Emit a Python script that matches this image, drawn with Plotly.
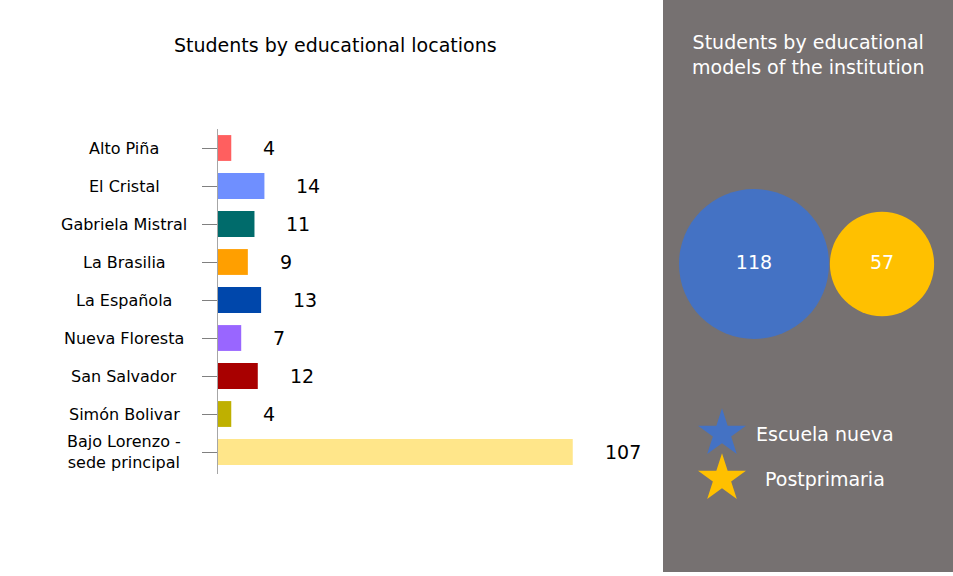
import plotly.graph_objects as go

# datos: estudiantes por sede
locations = ["Alto Piña", "El Cristal", "Gabriela Mistral", "La Brasilia", "La Española",
             "Nueva Floresta", "San Salvador", "Simón Bolivar", "Bajo Lorenzo -<br>sede principal"]
students = [4, 14, 11, 9, 13, 7, 12, 4, 107]
bar_colors = ["#FF5F5F", "#6F8FFF", "#006B6B", "#FF9F00", "#0047AB",
              "#9966FF", "#A80000", "#BFB000", "#FFE68A"]

# datos: estudiantes por modelo educativo
models = ["Escuela nueva", "Postprimaria"]
model_students = [118, 57]
model_colors = ["#4472C4", "#FFC000"]

W, H = 953, 576
FONT = "DejaVu Sans"
PANEL = "#767171"


def px_x(p):
    return p / W


def px_y(p):
    return 1 - p / H


fig = go.Figure()

# barras horizontales
fig.add_trace(go.Bar(
    x=students,
    y=locations,
    orientation="h",
    marker=dict(color=bar_colors, line=dict(width=0)),
    width=0.68,
    hoverinfo="x+y",
    xaxis="x", yaxis="y",
))

# circulos por modelo (area proporcional)
max_r = 75
sizeref = max(model_students) / (2 * max_r ** 2)
fig.add_trace(go.Scatter(
    x=models,
    y=[0] * len(models),
    mode="markers+text",
    marker=dict(size=model_students, sizemode="area", sizeref=sizeref,
                color=model_colors, line=dict(width=0), opacity=1),
    text=[str(v) for v in model_students],
    textposition="middle center",
    textfont=dict(color="white", size=19, family=FONT),
    cliponaxis=False,
    xaxis="x2", yaxis="y2",
))

# leyenda con estrellas
fig.add_trace(go.Scatter(
    x=[0] * len(models),
    y=models,
    mode="markers",
    marker=dict(symbol="star", size=36, color=model_colors, line=dict(width=0)),
    cliponaxis=False,
    xaxis="x3", yaxis="y3",
))

annotations = []

# etiquetas de categoria centradas
for loc in locations:
    annotations.append(dict(
        x=px_x(124), xref="paper", y=loc, yref="y",
        text=loc, showarrow=False, xanchor="center", yanchor="middle",
        font=dict(size=16, color="black", family=FONT),
    ))

# etiquetas de valor
for loc, val in zip(locations, students):
    annotations.append(dict(
        x=val, xref="x", y=loc, yref="y",
        text=str(val), showarrow=False, xanchor="left", yanchor="middle",
        xshift=30, font=dict(size=19, color="black", family=FONT),
    ))

# texto de leyenda
for m in models:
    annotations.append(dict(
        x=px_x(825), xref="paper", y=m, yref="y3",
        text=m, showarrow=False, xanchor="center", yanchor="middle",
        font=dict(size=19, color="white", family=FONT),
    ))

# titulos
annotations.append(dict(
    x=px_x(335), xref="paper", y=px_y(45), yref="paper",
    text="Students by educational locations", showarrow=False,
    xanchor="center", yanchor="middle",
    font=dict(size=19, color="black", family=FONT),
))
annotations.append(dict(
    x=px_x(808), xref="paper", y=px_y(54), yref="paper",
    text="Students by educational<br>models of the institution", showarrow=False,
    xanchor="center", yanchor="middle",
    font=dict(size=19, color="white", family=FONT),
))

fig.update_layout(
    width=W, height=H,
    margin=dict(l=0, r=0, t=0, b=0),
    paper_bgcolor="white",
    plot_bgcolor="rgba(0,0,0,0)",
    showlegend=False,
    font=dict(family=FONT),
    shapes=[dict(type="rect", xref="paper", yref="paper",
                 x0=px_x(663), x1=1, y0=px_y(572), y1=1,
                 fillcolor=PANEL, line=dict(width=0), layer="below")],
    annotations=annotations,
    xaxis=dict(domain=[px_x(218), px_x(649)], range=[0, 130],
               showgrid=False, zeroline=False, showticklabels=False,
               showline=False, ticks=""),
    yaxis=dict(domain=[px_y(474), px_y(129)], autorange="reversed",
               showgrid=False, zeroline=False, showticklabels=False,
               showline=True, linecolor="#A6A6A6", linewidth=1,
               ticks="outside", ticklen=15, tickcolor="#808080", tickwidth=1),
    xaxis2=dict(domain=[px_x(690), px_x(946)], range=[-0.5, 1.5],
                visible=False, anchor="y2"),
    yaxis2=dict(domain=[px_y(364), px_y(164)], range=[-1, 1],
                visible=False, anchor="x2"),
    xaxis3=dict(domain=[px_x(702), px_x(742)], range=[-1, 1],
                visible=False, anchor="y3"),
    yaxis3=dict(domain=[px_y(501), px_y(411)], range=[1.5, -0.5],
                visible=False, anchor="x3"),
)

# sin margen del body para que la figura ocupe toda la ventana
fig.write_html("out.html", config={"displayModeBar": False},
               post_script="document.body.style.margin='0';document.body.style.overflow='hidden';")
